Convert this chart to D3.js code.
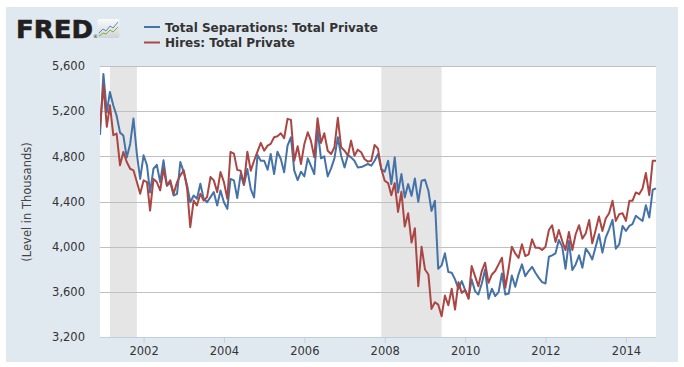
<!DOCTYPE html>
<html><head><meta charset="utf-8">
<script src="https://cdn.jsdelivr.net/npm/d3@7"></script>
<style>body{margin:0;background:#fff}svg{display:block}</style>
</head><body>
<svg id="c" width="684" height="367"></svg>
<script>
// ---- data ----
const startMonth = "2000-12-01";
const separations = [
4990,5530,5190,5370,5250,5160,5010,4985,4790,4910,5135,4820,
4600,4810,4720,4480,4690,4725,4570,4765,4540,4570,4453,4468,
4750,4660,4540,4394,4453,4424,4557,4424,4394,4439,4483,4365,
4498,4394,4335,4600,4587,4430,4643,4545,4687,4510,4436,4812,
4761,4761,4681,4821,4643,4841,4776,4658,4895,4969,4673,4590,
4664,4622,4782,4717,4643,5037,4782,4800,4622,4693,4782,4969,
4806,4702,4812,4791,4761,4702,4705,4717,4732,4717,4761,4821,
4687,4664,4761,4554,4791,4480,4643,4436,4554,4450,4604,4397,
4584,4593,4495,4317,4406,3804,3834,3941,3775,3769,3710,3627,
3695,3615,3547,3710,3606,3576,3674,3798,3538,3627,3562,3597,
3763,3576,3585,3745,3645,3755,3843,3739,3784,3822,3769,3724,
3686,3674,3911,3923,3941,4059,4000,3804,4050,3793,3843,3923,
3813,3982,3941,3887,4000,4110,3947,4080,4154,4237,3982,4021,
4184,4139,4184,4199,4273,4249,4228,4367,4258,4504,4516];
const hires = [
5060,5431,5061,5253,4987,5001,4720,4839,4750,4690,4676,4572,
4468,4587,4572,4320,4600,4572,4498,4690,4542,4587,4468,4572,
4631,4676,4513,4172,4409,4365,4468,4409,4439,4617,4587,4483,
4661,4572,4424,4839,4824,4680,4673,4554,4841,4673,4761,4841,
4919,4850,4895,4910,4969,4978,5004,4960,5132,5123,4761,4889,
4732,4910,5013,4939,4791,5138,4919,5004,4850,4821,4880,5141,
4880,4850,4806,4939,4806,4859,4836,4776,4753,4761,4900,4868,
4687,4584,4563,4456,4563,4308,4486,4178,4296,4036,4163,3650,
4000,3798,3754,3449,3508,3487,3384,3567,3481,3627,3443,3686,
3591,3615,3538,3828,3739,3650,3784,3858,3680,3754,3784,3843,
3902,3636,3813,4000,3940,3900,4021,3917,3932,4065,3991,3991,
3970,4000,4148,4190,4042,4148,4050,3970,4130,3970,4110,4190,
4071,4119,4237,4030,4148,4267,4139,4249,4296,4406,4228,4288,
4296,4228,4406,4406,4480,4465,4516,4652,4456,4761,4761];
const recessions = [["2001-03-01","2001-11-01"],["2007-12-01","2009-06-01"]];
const yTicks = [3200,3600,4000,4400,4800,5200,5600];
const xTickYears = [2002,2004,2006,2008,2010,2012,2014];
const seriesNames = ["Total Separations: Total Private","Hires: Total Private"];
const seriesColors = ["#4572a7","#aa4643"];
const yTitle = "(Level in Thousands)";

// ---- layout ----
const svg = d3.select("#c");
const plot = {l:100, r:656, t:66, b:337};
const FONT = "DejaVu Sans, Verdana, sans-serif";
const parse = d3.timeParse("%Y-%m-%d");
const t0 = parse(startMonth);
const dates = separations.map((_, i) => d3.timeMonth.offset(t0, i));

const x = d3.scaleTime().domain([dates[0], dates[dates.length-1]]).range([plot.l, plot.r]);
const y = d3.scaleLinear().domain([3200,5600]).range([plot.b, plot.t]);

// backgrounds
svg.append("rect").attr("x",6).attr("y",7).attr("width",672).attr("height",355).attr("fill","#e1e9f0");
svg.append("rect").attr("x",plot.l).attr("y",plot.t).attr("width",plot.r-plot.l).attr("height",plot.b-plot.t).attr("fill","#ffffff");

// recession shading
svg.append("g").selectAll("rect").data(recessions).join("rect")
  .attr("x", d => x(parse(d[0])))
  .attr("width", d => x(parse(d[1])) - x(parse(d[0])))
  .attr("y", plot.t).attr("height", plot.b-plot.t)
  .attr("fill","#e5e5e5");

// y grid + labels
const yAxis = d3.axisLeft(y).tickValues(yTicks).tickSize(-(plot.r-plot.l)).tickPadding(15)
  .tickFormat(d3.format(","));
const gy = svg.append("g").attr("transform",`translate(${plot.l},0)`).call(yAxis);
gy.select(".domain").remove();
gy.selectAll(".tick line").attr("stroke","#c0c0c0").attr("shape-rendering","crispEdges");
gy.selectAll(".tick text").attr("fill","#333").attr("font-family",FONT).attr("font-size","11.5px");

// x axis
const xAxis = d3.axisBottom(x).tickValues(xTickYears.map(yr => new Date(yr,0,1)))
  .tickSize(6).tickPadding(4).tickFormat(d3.timeFormat("%Y"));
const gx = svg.append("g").attr("transform",`translate(0,${plot.b})`).call(xAxis);
gx.select(".domain").attr("stroke","#c0d0e0").attr("d",`M${plot.l},0.5H${plot.r}`);
gx.selectAll(".tick line").attr("stroke","#c0d0e0");
gx.selectAll(".tick text").attr("fill","#333").attr("font-family",FONT).attr("font-size","11.5px");

// y title
svg.append("text").attr("transform","translate(31,202) rotate(-90)")
  .attr("text-anchor","middle").attr("fill","#444")
  .attr("font-family",FONT).attr("font-size","11.5px")
  .text(yTitle);

// lines
svg.append("clipPath").attr("id","clip").append("rect")
  .attr("x",plot.l).attr("y",plot.t-2).attr("width",plot.r-plot.l+2).attr("height",plot.b-plot.t+4);
const line = d3.line().x((d,i)=>x(dates[i])).y(d=>y(d));
const gl = svg.append("g").attr("clip-path","url(#clip)");
[separations, hires].forEach((s, k) => {
  gl.append("path").datum(s).attr("d", line).attr("fill","none")
    .attr("stroke", seriesColors[k]).attr("stroke-width",2).attr("stroke-linejoin","round");
});

// FRED logo
const logo = svg.append("g");
logo.append("text").attr("x",16).attr("y",37.5).attr("fill","#231f20")
  .attr("font-family","DejaVu Sans, sans-serif").attr("font-weight","bold").attr("font-size","25px")
  .attr("stroke","#231f20").attr("stroke-width",0.6)
  .attr("textLength",77).attr("lengthAdjust","spacingAndGlyphs").text("FRED");
logo.append("text").attr("x",93).attr("y",38).attr("fill","#231f20")
  .attr("font-family","DejaVu Sans, sans-serif").attr("font-size","5px").text("®");
const grad = svg.append("defs").append("linearGradient").attr("id","ig").attr("x1",0).attr("y1",0).attr("x2",0).attr("y2",1);
grad.append("stop").attr("offset","0").attr("stop-color","#fafafa");
grad.append("stop").attr("offset","1").attr("stop-color","#cfd3d6");
logo.append("rect").attr("x",97.5).attr("y",19).attr("width",22).attr("height",19).attr("rx",2).attr("fill","url(#ig)");
logo.append("path").attr("d","M99,33 L103,29 L106,31 L110,26 L113,28 L118,22").attr("fill","none").attr("stroke","#5b8cc4").attr("stroke-width",1);
logo.append("path").attr("d","M99,36 L103,33 L106,34 L110,30 L113,32 L118,27").attr("fill","none").attr("stroke","#7fae3a").attr("stroke-width",1);

// legend
const lg = svg.append("g");
seriesNames.forEach((n, k) => {
  const yy = 27 + k*15.5;
  lg.append("line").attr("x1",144).attr("x2",160).attr("y1",yy).attr("y2",yy)
    .attr("stroke",seriesColors[k]).attr("stroke-width",2);
  lg.append("text").attr("x",165).attr("y",yy+4.5).attr("fill","#333")
    .attr("font-family",FONT).attr("font-weight","bold").attr("font-size","12px")
    .text(n);
});
</script>
</body></html>
